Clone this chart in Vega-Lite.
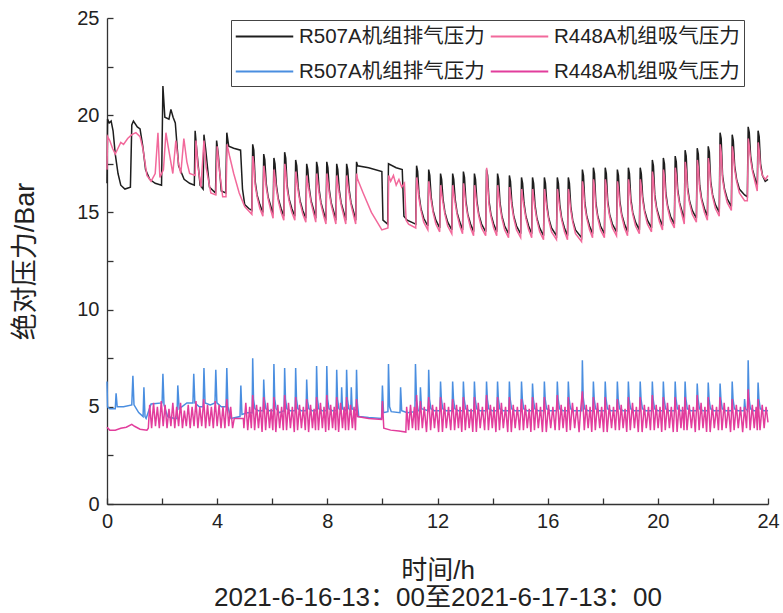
{
"$schema": "https://vega.github.io/schema/vega-lite/v6.json",
"width": 661, "height": 486,
"autosize": {"type": "none"},
"padding": {"left": 107, "top": 18, "right": 15, "bottom": 109},
"background": "white",
"config": {"view": {"stroke": null}, "font": "Liberation Sans, Noto Sans CJK SC"},
"datasets": {
"k": [
{"x":0,"y":16.5},{"x":0.02,"y":19.8},{"x":0.08,"y":19.6},{"x":0.15,"y":19.7},{"x":0.22,"y":19.2},{"x":0.3,"y":18.0},{"x":0.4,"y":17.0},{"x":0.5,"y":16.4},{"x":0.65,"y":16.2},{"x":0.85,"y":16.3},{"x":0.9,"y":19.5},{"x":0.96,"y":19.7},{"x":1.1,"y":19.4},{"x":1.2,"y":19.3},{"x":1.3,"y":18.4},{"x":1.4,"y":17.2},{"x":1.55,"y":16.7},{"x":1.75,"y":16.5},{"x":1.98,"y":16.4},{"x":2.03,"y":21.5},{"x":2.1,"y":19.9},{"x":2.25,"y":19.8},{"x":2.32,"y":20.3},{"x":2.4,"y":19.9},{"x":2.48,"y":19.6},{"x":2.6,"y":17.4},{"x":2.8,"y":16.7},{"x":3.0,"y":16.5},{"x":3.17,"y":16.4},{"x":3.2,"y":19.2},{"x":3.26,"y":18.2},{"x":3.38,"y":16.4},{"x":3.49,"y":16.2},{"x":3.52,"y":19.0},{"x":3.58,"y":18.3},{"x":3.72,"y":16.3},{"x":3.94,"y":16.0},{"x":3.98,"y":18.7},{"x":4.04,"y":18.0},{"x":4.15,"y":16.1},{"x":4.31,"y":16.0},{"x":4.35,"y":19.1},{"x":4.42,"y":18.4},{"x":4.6,"y":18.3},{"x":4.85,"y":18.2},{"x":4.92,"y":16.2},{"x":5.0,"y":15.4},{"x":5.15,"y":15.2},
{"x":5.26,"y":15.1},{"x":5.29,"y":18.5},{"x":5.33,"y":18.2},{"x":5.38,"y":16.6},{"x":5.45,"y":15.9},{"x":5.55,"y":15.4},
{"x":5.66,"y":15.0},{"x":5.69,"y":18.0},{"x":5.73,"y":17.7},{"x":5.78,"y":16.5},{"x":5.85,"y":15.8},{"x":5.95,"y":15.3},
{"x":6.03,"y":14.9},{"x":6.06,"y":17.8},{"x":6.10,"y":17.5},{"x":6.15,"y":16.4},{"x":6.22,"y":15.7},{"x":6.32,"y":15.2},
{"x":6.42,"y":14.8},{"x":6.45,"y":18.1},{"x":6.49,"y":17.8},{"x":6.54,"y":16.4},{"x":6.61,"y":15.7},{"x":6.71,"y":15.2},
{"x":6.82,"y":14.8},{"x":6.85,"y":17.7},{"x":6.89,"y":17.4},{"x":6.94,"y":16.3},{"x":7.01,"y":15.6},{"x":7.11,"y":15.1},
{"x":7.22,"y":14.7},{"x":7.25,"y":17.5},{"x":7.29,"y":17.2},{"x":7.34,"y":16.3},{"x":7.41,"y":15.6},{"x":7.51,"y":15.1},
{"x":7.58,"y":14.7},{"x":7.61,"y":17.6},{"x":7.65,"y":17.3},{"x":7.70,"y":16.2},{"x":7.77,"y":15.5},{"x":7.87,"y":15.0},
{"x":7.95,"y":14.6},{"x":7.98,"y":17.6},{"x":8.02,"y":17.3},{"x":8.07,"y":16.2},{"x":8.14,"y":15.5},{"x":8.24,"y":15.0},
{"x":8.31,"y":14.6},{"x":8.34,"y":17.5},{"x":8.38,"y":17.2},{"x":8.43,"y":16.2},{"x":8.50,"y":15.5},{"x":8.60,"y":15.0},
{"x":8.67,"y":14.6},{"x":8.70,"y":17.5},{"x":8.74,"y":17.2},{"x":8.79,"y":16.2},{"x":8.86,"y":15.5},{"x":8.96,"y":15.0},
{"x":9.03,"y":14.6},{"x":9.06,"y":17.6},{"x":9.10,"y":17.4},{"x":9.5,"y":17.3},{"x":9.98,"y":17.1},{"x":10.02,"y":14.6},{"x":10.19,"y":14.4},{"x":10.22,"y":17.5},{"x":10.5,"y":17.3},{"x":10.72,"y":17.2},{"x":10.78,"y":14.8},{"x":10.9,"y":14.6},
{"x":11.21,"y":14.4},{"x":11.24,"y":17.4},{"x":11.28,"y":17.1},{"x":11.33,"y":15.9},{"x":11.40,"y":15.2},{"x":11.50,"y":14.7},
{"x":11.65,"y":14.3},{"x":11.68,"y":17.2},{"x":11.72,"y":16.9},{"x":11.77,"y":15.8},{"x":11.84,"y":15.1},{"x":11.94,"y":14.6},
{"x":12.08,"y":14.2},{"x":12.11,"y":17.0},{"x":12.15,"y":16.7},{"x":12.20,"y":15.7},{"x":12.27,"y":15.0},{"x":12.37,"y":14.5},
{"x":12.52,"y":14.1},{"x":12.55,"y":17.0},{"x":12.59,"y":16.7},{"x":12.64,"y":15.7},{"x":12.71,"y":15.0},{"x":12.81,"y":14.5},
{"x":12.91,"y":14.1},{"x":12.94,"y":17.1},{"x":12.98,"y":16.8},{"x":13.03,"y":15.6},{"x":13.10,"y":14.9},{"x":13.20,"y":14.4},
{"x":13.31,"y":14.0},{"x":13.34,"y":17.0},{"x":13.38,"y":16.7},{"x":13.43,"y":15.6},{"x":13.50,"y":14.9},{"x":13.60,"y":14.4},
{"x":13.75,"y":14.0},{"x":13.78,"y":17.2},{"x":13.82,"y":16.9},{"x":13.87,"y":15.6},{"x":13.94,"y":14.9},{"x":14.04,"y":14.4},
{"x":14.15,"y":14.0},{"x":14.18,"y":17.0},{"x":14.22,"y":16.7},{"x":14.27,"y":15.5},{"x":14.34,"y":14.8},{"x":14.44,"y":14.3},
{"x":14.58,"y":13.9},{"x":14.61,"y":16.9},{"x":14.65,"y":16.6},{"x":14.70,"y":15.5},{"x":14.77,"y":14.8},{"x":14.87,"y":14.3},
{"x":15.02,"y":13.9},{"x":15.05,"y":16.8},{"x":15.09,"y":16.5},{"x":15.14,"y":15.5},{"x":15.21,"y":14.8},{"x":15.31,"y":14.3},
{"x":15.42,"y":13.9},{"x":15.45,"y":16.8},{"x":15.49,"y":16.5},{"x":15.54,"y":15.4},{"x":15.61,"y":14.7},{"x":15.71,"y":14.2},
{"x":15.85,"y":13.8},{"x":15.88,"y":16.8},{"x":15.92,"y":16.5},{"x":15.97,"y":15.4},{"x":16.04,"y":14.7},{"x":16.14,"y":14.2},
{"x":16.32,"y":13.8},{"x":16.35,"y":16.8},{"x":16.39,"y":16.5},{"x":16.44,"y":15.4},{"x":16.51,"y":14.7},{"x":16.61,"y":14.2},
{"x":16.72,"y":13.8},{"x":16.75,"y":16.8},{"x":16.79,"y":16.5},{"x":16.84,"y":15.3},{"x":16.91,"y":14.6},{"x":17.01,"y":14.1},
{"x":17.23,"y":13.7},{"x":17.26,"y":17.2},{"x":17.30,"y":16.9},{"x":17.35,"y":15.5},{"x":17.42,"y":14.8},{"x":17.52,"y":14.3},
{"x":17.63,"y":13.9},{"x":17.66,"y":17.3},{"x":17.70,"y":17.0},{"x":17.75,"y":15.5},{"x":17.82,"y":14.8},{"x":17.92,"y":14.3},
{"x":18.06,"y":13.9},{"x":18.09,"y":17.3},{"x":18.13,"y":17.0},{"x":18.18,"y":15.6},{"x":18.25,"y":14.9},{"x":18.35,"y":14.4},
{"x":18.50,"y":14.0},{"x":18.53,"y":17.2},{"x":18.57,"y":16.9},{"x":18.62,"y":15.6},{"x":18.69,"y":14.9},{"x":18.79,"y":14.4},
{"x":18.90,"y":14.0},{"x":18.93,"y":17.3},{"x":18.97,"y":17.0},{"x":19.02,"y":15.7},{"x":19.09,"y":15.0},{"x":19.19,"y":14.5},
{"x":19.33,"y":14.1},{"x":19.36,"y":17.3},{"x":19.40,"y":17.0},{"x":19.45,"y":15.8},{"x":19.52,"y":15.1},{"x":19.62,"y":14.6},
{"x":19.77,"y":14.2},{"x":19.80,"y":17.7},{"x":19.84,"y":17.4},{"x":19.89,"y":15.9},{"x":19.96,"y":15.2},{"x":20.06,"y":14.7},
{"x":20.17,"y":14.3},{"x":20.20,"y":17.8},{"x":20.24,"y":17.5},{"x":20.29,"y":16.0},{"x":20.36,"y":15.3},{"x":20.46,"y":14.8},
{"x":20.60,"y":14.4},{"x":20.63,"y":17.9},{"x":20.67,"y":17.6},{"x":20.72,"y":16.2},{"x":20.79,"y":15.5},{"x":20.89,"y":15.0},
{"x":20.96,"y":14.6},{"x":20.99,"y":18.2},{"x":21.03,"y":17.9},{"x":21.08,"y":16.3},{"x":21.15,"y":15.6},{"x":21.25,"y":15.1},
{"x":21.40,"y":14.7},{"x":21.43,"y":18.3},{"x":21.47,"y":18.0},{"x":21.52,"y":16.4},{"x":21.59,"y":15.7},{"x":21.69,"y":15.2},
{"x":21.80,"y":14.8},{"x":21.83,"y":18.4},{"x":21.87,"y":18.1},{"x":21.92,"y":16.6},{"x":21.99,"y":15.9},{"x":22.09,"y":15.4},
{"x":22.23,"y":15.0},{"x":22.26,"y":19.1},{"x":22.30,"y":18.8},{"x":22.35,"y":16.9},{"x":22.42,"y":16.2},{"x":22.52,"y":15.7},
{"x":22.67,"y":15.3},{"x":22.70,"y":19.0},{"x":22.74,"y":18.7},{"x":22.79,"y":17.4},{"x":22.86,"y":16.7},{"x":22.96,"y":16.2},{"x":23.15,"y":15.9},
{"x":23.25,"y":15.8},{"x":23.28,"y":19.4},{"x":23.32,"y":19.1},{"x":23.37,"y":17.9},{"x":23.44,"y":17.2},{"x":23.54,"y":16.7},
{"x":23.61,"y":16.3},{"x":23.64,"y":19.2},{"x":23.68,"y":18.9},{"x":23.73,"y":17.5},{"x":23.80,"y":16.9},{"x":23.90,"y":16.6},{"x":24.0,"y":16.7}
],
"p": [
{"x":0,"y":17.2},{"x":0.02,"y":18.9},{"x":0.1,"y":18.7},{"x":0.2,"y":18.3},{"x":0.3,"y":18.0},{"x":0.4,"y":18.3},{"x":0.5,"y":18.6},{"x":0.6,"y":18.5},{"x":0.75,"y":18.8},{"x":0.9,"y":19.0},{"x":1.05,"y":19.1},{"x":1.2,"y":18.9},{"x":1.3,"y":18.3},{"x":1.45,"y":16.9},{"x":1.6,"y":16.6},{"x":1.75,"y":17.0},{"x":1.85,"y":19.1},{"x":1.92,"y":16.8},{"x":2.05,"y":17.2},{"x":2.14,"y":19.1},{"x":2.22,"y":18.4},{"x":2.39,"y":17.0},{"x":2.5,"y":18.7},{"x":2.6,"y":17.5},{"x":2.68,"y":17.0},{"x":2.79,"y":18.8},{"x":2.9,"y":17.6},{"x":3.0,"y":17.0},{"x":3.2,"y":16.9},{"x":3.23,"y":18.7},{"x":3.3,"y":17.4},{"x":3.41,"y":16.3},{"x":3.52,"y":18.7},{"x":3.6,"y":17.3},{"x":3.77,"y":16.0},{"x":3.95,"y":15.9},{"x":4.0,"y":18.4},{"x":4.08,"y":17.2},{"x":4.2,"y":15.8},{"x":4.32,"y":15.8},{"x":4.36,"y":18.5},{"x":4.45,"y":17.9},{"x":4.6,"y":17.0},{"x":4.8,"y":16.0},{"x":5.0,"y":15.3},
{"x":5.26,"y":14.9},{"x":5.295,"y":17.9},{"x":5.33,"y":17.5},{"x":5.38,"y":16.4},{"x":5.45,"y":15.8},{"x":5.55,"y":15.2},
{"x":5.66,"y":14.8},{"x":5.695,"y":17.4},{"x":5.73,"y":17.0},{"x":5.78,"y":16.3},{"x":5.85,"y":15.7},{"x":5.95,"y":15.1},
{"x":6.03,"y":14.7},{"x":6.065,"y":17.2},{"x":6.10,"y":16.8},{"x":6.15,"y":16.2},{"x":6.22,"y":15.6},{"x":6.32,"y":15.0},
{"x":6.42,"y":14.6},{"x":6.455,"y":17.5},{"x":6.49,"y":17.1},{"x":6.54,"y":16.2},{"x":6.61,"y":15.6},{"x":6.71,"y":15.0},
{"x":6.82,"y":14.6},{"x":6.855,"y":17.1},{"x":6.89,"y":16.7},{"x":6.94,"y":16.1},{"x":7.01,"y":15.5},{"x":7.11,"y":14.9},
{"x":7.22,"y":14.5},{"x":7.255,"y":16.9},{"x":7.29,"y":16.5},{"x":7.34,"y":16.1},{"x":7.41,"y":15.5},{"x":7.51,"y":14.9},
{"x":7.58,"y":14.5},{"x":7.615,"y":17.0},{"x":7.65,"y":16.6},{"x":7.70,"y":16.0},{"x":7.77,"y":15.4},{"x":7.87,"y":14.8},
{"x":7.95,"y":14.4},{"x":7.985,"y":17.0},{"x":8.02,"y":16.6},{"x":8.07,"y":16.0},{"x":8.14,"y":15.4},{"x":8.24,"y":14.8},
{"x":8.31,"y":14.4},{"x":8.345,"y":16.9},{"x":8.38,"y":16.5},{"x":8.43,"y":16.0},{"x":8.50,"y":15.4},{"x":8.60,"y":14.8},
{"x":8.67,"y":14.4},{"x":8.705,"y":16.9},{"x":8.74,"y":16.5},{"x":8.79,"y":16.0},{"x":8.86,"y":15.4},{"x":8.96,"y":14.8},
{"x":9.03,"y":14.4},{"x":9.065,"y":17.0},{"x":9.10,"y":16.7},{"x":9.3,"y":16.0},{"x":9.6,"y":15.0},{"x":9.98,"y":14.1},{"x":10.2,"y":14.2},{"x":10.23,"y":16.9},{"x":10.3,"y":16.6},{"x":10.4,"y":16.9},{"x":10.5,"y":16.4},{"x":10.6,"y":16.7},{"x":10.7,"y":16.3},{"x":10.8,"y":16.5},{"x":10.86,"y":14.6},{"x":10.95,"y":14.4},
{"x":11.21,"y":14.2},{"x":11.245,"y":16.8},{"x":11.28,"y":16.4},{"x":11.33,"y":15.7},{"x":11.40,"y":15.1},{"x":11.50,"y":14.5},
{"x":11.65,"y":14.1},{"x":11.685,"y":16.6},{"x":11.72,"y":16.2},{"x":11.77,"y":15.6},{"x":11.84,"y":15.0},{"x":11.94,"y":14.4},
{"x":12.08,"y":14.0},{"x":12.115,"y":16.4},{"x":12.15,"y":16.0},{"x":12.20,"y":15.5},{"x":12.27,"y":14.9},{"x":12.37,"y":14.3},
{"x":12.52,"y":13.9},{"x":12.555,"y":16.4},{"x":12.59,"y":16.0},{"x":12.64,"y":15.5},{"x":12.71,"y":14.9},{"x":12.81,"y":14.3},
{"x":12.91,"y":13.9},{"x":12.945,"y":16.5},{"x":12.98,"y":16.1},{"x":13.03,"y":15.4},{"x":13.10,"y":14.8},{"x":13.20,"y":14.2},
{"x":13.31,"y":13.8},{"x":13.345,"y":16.4},{"x":13.38,"y":16.0},{"x":13.43,"y":15.4},{"x":13.50,"y":14.8},{"x":13.60,"y":14.2},
{"x":13.75,"y":13.8},{"x":13.785,"y":17.3},{"x":13.82,"y":16.5},{"x":13.87,"y":15.4},{"x":13.94,"y":14.8},{"x":14.04,"y":14.2},
{"x":14.15,"y":13.8},{"x":14.185,"y":16.4},{"x":14.22,"y":16.0},{"x":14.27,"y":15.3},{"x":14.34,"y":14.7},{"x":14.44,"y":14.1},
{"x":14.58,"y":13.7},{"x":14.615,"y":16.3},{"x":14.65,"y":15.9},{"x":14.70,"y":15.3},{"x":14.77,"y":14.7},{"x":14.87,"y":14.1},
{"x":15.02,"y":13.7},{"x":15.055,"y":16.2},{"x":15.09,"y":15.8},{"x":15.14,"y":15.3},{"x":15.21,"y":14.7},{"x":15.31,"y":14.1},
{"x":15.42,"y":13.7},{"x":15.455,"y":16.2},{"x":15.49,"y":15.8},{"x":15.54,"y":15.2},{"x":15.61,"y":14.6},{"x":15.71,"y":14.0},
{"x":15.85,"y":13.6},{"x":15.885,"y":16.2},{"x":15.92,"y":15.8},{"x":15.97,"y":15.2},{"x":16.04,"y":14.6},{"x":16.14,"y":14.0},
{"x":16.32,"y":13.6},{"x":16.355,"y":16.2},{"x":16.39,"y":15.8},{"x":16.44,"y":15.2},{"x":16.51,"y":14.6},{"x":16.61,"y":14.0},
{"x":16.72,"y":13.6},{"x":16.755,"y":16.2},{"x":16.79,"y":15.8},{"x":16.84,"y":15.1},{"x":16.91,"y":14.5},{"x":17.01,"y":13.9},
{"x":17.23,"y":13.5},{"x":17.265,"y":16.6},{"x":17.30,"y":16.2},{"x":17.35,"y":15.3},{"x":17.42,"y":14.7},{"x":17.52,"y":14.1},
{"x":17.63,"y":13.7},{"x":17.665,"y":16.7},{"x":17.70,"y":16.3},{"x":17.75,"y":15.3},{"x":17.82,"y":14.7},{"x":17.92,"y":14.1},
{"x":18.06,"y":13.7},{"x":18.095,"y":16.7},{"x":18.13,"y":16.3},{"x":18.18,"y":15.4},{"x":18.25,"y":14.8},{"x":18.35,"y":14.2},
{"x":18.50,"y":13.8},{"x":18.535,"y":16.6},{"x":18.57,"y":16.2},{"x":18.62,"y":15.4},{"x":18.69,"y":14.8},{"x":18.79,"y":14.2},
{"x":18.90,"y":13.8},{"x":18.935,"y":16.7},{"x":18.97,"y":16.3},{"x":19.02,"y":15.5},{"x":19.09,"y":14.9},{"x":19.19,"y":14.3},
{"x":19.33,"y":13.9},{"x":19.365,"y":16.7},{"x":19.40,"y":16.3},{"x":19.45,"y":15.6},{"x":19.52,"y":15.0},{"x":19.62,"y":14.4},
{"x":19.77,"y":14.0},{"x":19.805,"y":17.1},{"x":19.84,"y":16.7},{"x":19.89,"y":15.7},{"x":19.96,"y":15.1},{"x":20.06,"y":14.5},
{"x":20.17,"y":14.1},{"x":20.205,"y":17.2},{"x":20.24,"y":16.8},{"x":20.29,"y":15.8},{"x":20.36,"y":15.2},{"x":20.46,"y":14.6},
{"x":20.60,"y":14.2},{"x":20.635,"y":17.3},{"x":20.67,"y":16.9},{"x":20.72,"y":16.0},{"x":20.79,"y":15.4},{"x":20.89,"y":14.8},
{"x":20.96,"y":14.4},{"x":20.995,"y":17.6},{"x":21.03,"y":17.2},{"x":21.08,"y":16.1},{"x":21.15,"y":15.5},{"x":21.25,"y":14.9},
{"x":21.40,"y":14.5},{"x":21.435,"y":17.7},{"x":21.47,"y":17.3},{"x":21.52,"y":16.2},{"x":21.59,"y":15.6},{"x":21.69,"y":15.0},
{"x":21.80,"y":14.6},{"x":21.835,"y":17.8},{"x":21.87,"y":17.4},{"x":21.92,"y":16.4},{"x":21.99,"y":15.8},{"x":22.09,"y":15.2},
{"x":22.23,"y":14.8},{"x":22.265,"y":18.5},{"x":22.30,"y":18.1},{"x":22.35,"y":16.7},{"x":22.42,"y":16.1},{"x":22.52,"y":15.5},
{"x":22.67,"y":15.1},{"x":22.705,"y":18.4},{"x":22.74,"y":18.0},{"x":22.79,"y":17.2},{"x":22.86,"y":16.6},{"x":22.96,"y":16.0},{"x":23.15,"y":15.6},
{"x":23.25,"y":15.6},{"x":23.285,"y":18.8},{"x":23.32,"y":18.4},{"x":23.37,"y":17.7},{"x":23.44,"y":17.1},{"x":23.54,"y":16.5},
{"x":23.61,"y":16.1},{"x":23.645,"y":18.6},{"x":23.68,"y":18.2},{"x":23.73,"y":17.3},{"x":23.80,"y":16.9},{"x":23.90,"y":16.7},{"x":24.0,"y":16.9}
],
"b": [
{"x":0,"y":6.3},{"x":0.02,"y":5.0},{"x":0.1,"y":4.9},{"x":0.3,"y":4.9},{"x":0.33,"y":5.7},{"x":0.37,"y":5.0},{"x":0.6,"y":5.0},{"x":0.9,"y":5.1},{"x":0.94,"y":6.6},{"x":0.98,"y":5.1},{"x":1.15,"y":4.7},{"x":1.31,"y":4.5},{"x":1.34,"y":6.0},{"x":1.38,"y":4.5},{"x":1.42,"y":4.4},{"x":1.6,"y":5.15},{"x":2.0,"y":5.2},{"x":2.03,"y":6.7},{"x":2.07,"y":5.1},{"x":2.2,"y":4.5},{"x":2.45,"y":4.4},{"x":2.54,"y":4.4},{"x":2.57,"y":6.1},{"x":2.62,"y":4.9},{"x":2.9,"y":5.2},{"x":3.12,"y":5.2},{"x":3.15,"y":6.7},{"x":3.19,"y":5.2},{"x":3.35,"y":5.0},{"x":3.49,"y":5.0},{"x":3.52,"y":7.0},{"x":3.56,"y":5.2},{"x":3.75,"y":5.1},{"x":3.92,"y":5.2},{"x":3.95,"y":6.9},{"x":3.99,"y":5.2},{"x":4.15,"y":5.0},{"x":4.32,"y":5.0},{"x":4.35,"y":7.0},{"x":4.39,"y":5.0},{"x":4.5,"y":4.4},{"x":4.83,"y":4.5},{"x":4.86,"y":6.1},{"x":4.9,"y":4.6},{"x":5.1,"y":4.7},
{"x":5.27,"y":4.7},{"x":5.29,"y":7.5},{"x":5.32,"y":5.4},{"x":5.37,"y":4.9},{"x":5.49,"y":4.8},
{"x":5.67,"y":4.8},{"x":5.69,"y":6.4},{"x":5.72,"y":5.4},{"x":5.77,"y":4.9},{"x":5.89,"y":4.8},
{"x":6.04,"y":4.8},{"x":6.06,"y":7.2},{"x":6.09,"y":5.4},{"x":6.14,"y":4.9},{"x":6.26,"y":4.7},
{"x":6.43,"y":4.8},{"x":6.45,"y":7.0},{"x":6.48,"y":5.4},{"x":6.53,"y":4.9},{"x":6.65,"y":4.8},
{"x":6.83,"y":4.8},{"x":6.85,"y":7.0},{"x":6.88,"y":5.4},{"x":6.93,"y":4.9},{"x":7.05,"y":4.8},
{"x":7.23,"y":4.8},{"x":7.25,"y":6.4},{"x":7.28,"y":5.3},{"x":7.33,"y":4.9},{"x":7.45,"y":4.8},
{"x":7.59,"y":4.8},{"x":7.61,"y":7.1},{"x":7.64,"y":5.4},{"x":7.69,"y":4.9},{"x":7.81,"y":4.8},
{"x":7.96,"y":4.8},{"x":7.98,"y":7.1},{"x":8.01,"y":5.4},{"x":8.06,"y":4.9},{"x":8.18,"y":4.8},
{"x":8.32,"y":4.8},{"x":8.34,"y":6.9},{"x":8.37,"y":5.4},{"x":8.42,"y":4.9},{"x":8.50,"y":4.8},{"x":8.52,"y":6.0},{"x":8.55,"y":4.9},{"x":8.66,"y":4.8},
{"x":8.68,"y":4.8},{"x":8.70,"y":6.9},{"x":8.73,"y":5.4},{"x":8.78,"y":4.9},{"x":8.85,"y":4.8},{"x":8.87,"y":6.0},{"x":8.90,"y":4.9},{"x":9.03,"y":4.8},
{"x":9.04,"y":4.8},{"x":9.06,"y":6.9},{"x":9.09,"y":5.2},{"x":9.14,"y":4.5},{"x":9.5,"y":4.45},{"x":9.97,"y":4.4},
{"x":10.0,"y":6.1},{"x":10.04,"y":4.7},{"x":10.2,"y":4.75},{"x":10.22,"y":7.2},{"x":10.26,"y":5.0},{"x":10.32,"y":4.75},{"x":10.64,"y":4.7},{"x":10.66,"y":6.0},{"x":10.7,"y":4.8},{"x":10.9,"y":4.7},{"x":11.18,"y":4.75},
{"x":11.2,"y":7.2},{"x":11.24,"y":5.3},{"x":11.3,"y":4.8},{"x":11.36,"y":4.8},{"x":11.38,"y":6.0},{"x":11.42,"y":4.9},
{"x":11.66,"y":4.8},{"x":11.68,"y":6.9},{"x":11.71,"y":5.4},{"x":11.76,"y":4.9},{"x":11.88,"y":4.8},
{"x":12.09,"y":4.8},{"x":12.11,"y":6.3},{"x":12.14,"y":5.4},{"x":12.19,"y":4.9},{"x":12.31,"y":4.8},
{"x":12.53,"y":4.8},{"x":12.55,"y":6.3},{"x":12.58,"y":5.4},{"x":12.63,"y":4.9},{"x":12.75,"y":4.8},
{"x":12.92,"y":4.8},{"x":12.94,"y":6.3},{"x":12.97,"y":5.4},{"x":13.02,"y":4.9},{"x":13.14,"y":4.8},
{"x":13.32,"y":4.8},{"x":13.34,"y":6.3},{"x":13.37,"y":5.4},{"x":13.42,"y":4.9},{"x":13.54,"y":4.8},
{"x":13.76,"y":4.8},{"x":13.78,"y":6.3},{"x":13.81,"y":5.4},{"x":13.86,"y":4.9},{"x":13.98,"y":4.8},
{"x":14.16,"y":4.8},{"x":14.18,"y":6.3},{"x":14.21,"y":5.4},{"x":14.26,"y":4.9},{"x":14.38,"y":4.8},
{"x":14.59,"y":4.8},{"x":14.61,"y":6.3},{"x":14.64,"y":5.4},{"x":14.69,"y":4.9},{"x":14.81,"y":4.8},
{"x":15.03,"y":4.8},{"x":15.05,"y":6.3},{"x":15.08,"y":5.4},{"x":15.13,"y":4.9},{"x":15.25,"y":4.8},
{"x":15.43,"y":4.8},{"x":15.45,"y":6.2},{"x":15.48,"y":5.4},{"x":15.53,"y":4.9},{"x":15.65,"y":4.8},
{"x":15.86,"y":4.8},{"x":15.88,"y":6.3},{"x":15.91,"y":5.4},{"x":15.96,"y":4.9},{"x":16.08,"y":4.8},
{"x":16.33,"y":4.8},{"x":16.35,"y":6.3},{"x":16.38,"y":5.4},{"x":16.43,"y":4.9},{"x":16.55,"y":4.8},
{"x":16.73,"y":4.8},{"x":16.75,"y":6.3},{"x":16.78,"y":5.4},{"x":16.83,"y":4.9},{"x":16.95,"y":4.8},
{"x":17.24,"y":4.8},{"x":17.26,"y":7.4},{"x":17.29,"y":5.5},{"x":17.34,"y":4.9},{"x":17.46,"y":4.8},
{"x":17.64,"y":4.8},{"x":17.66,"y":6.3},{"x":17.69,"y":5.4},{"x":17.74,"y":4.9},{"x":17.86,"y":4.8},
{"x":18.07,"y":4.8},{"x":18.09,"y":6.3},{"x":18.12,"y":5.4},{"x":18.17,"y":4.9},{"x":18.29,"y":4.8},
{"x":18.51,"y":4.8},{"x":18.53,"y":6.3},{"x":18.56,"y":5.4},{"x":18.61,"y":4.9},{"x":18.73,"y":4.8},
{"x":18.91,"y":4.8},{"x":18.93,"y":6.3},{"x":18.96,"y":5.4},{"x":19.01,"y":4.9},{"x":19.13,"y":4.8},
{"x":19.34,"y":4.8},{"x":19.36,"y":6.3},{"x":19.39,"y":5.4},{"x":19.44,"y":4.9},{"x":19.56,"y":4.8},
{"x":19.78,"y":4.8},{"x":19.80,"y":6.3},{"x":19.83,"y":5.4},{"x":19.88,"y":4.9},{"x":20.00,"y":4.8},
{"x":20.18,"y":4.8},{"x":20.20,"y":6.3},{"x":20.23,"y":5.4},{"x":20.28,"y":4.9},{"x":20.40,"y":4.8},
{"x":20.61,"y":4.8},{"x":20.63,"y":6.3},{"x":20.66,"y":5.4},{"x":20.71,"y":4.9},{"x":20.83,"y":4.8},
{"x":20.97,"y":4.8},{"x":20.99,"y":6.3},{"x":21.02,"y":5.4},{"x":21.07,"y":4.9},{"x":21.19,"y":4.8},
{"x":21.41,"y":4.8},{"x":21.43,"y":6.2},{"x":21.46,"y":5.4},{"x":21.51,"y":4.9},{"x":21.63,"y":4.8},
{"x":21.81,"y":4.8},{"x":21.83,"y":6.25},{"x":21.86,"y":5.4},{"x":21.91,"y":4.9},{"x":22.03,"y":4.8},
{"x":22.24,"y":4.8},{"x":22.26,"y":6.2},{"x":22.29,"y":5.4},{"x":22.34,"y":4.9},{"x":22.46,"y":4.8},
{"x":22.68,"y":4.8},{"x":22.70,"y":6.3},{"x":22.73,"y":5.4},{"x":22.78,"y":4.9},{"x":22.90,"y":4.8},
{"x":23.13,"y":4.8},{"x":23.15,"y":5.4},{"x":23.18,"y":4.9},{"x":23.26,"y":4.8},{"x":23.28,"y":7.4},{"x":23.31,"y":5.5},{"x":23.36,"y":4.9},{"x":23.48,"y":4.8},
{"x":23.62,"y":4.8},{"x":23.64,"y":6.25},{"x":23.67,"y":5.4},{"x":23.72,"y":4.9},{"x":23.84,"y":4.8},{"x":24.0,"y":4.8}
],
"m": [
{"x":0,"y":3.95},{"x":0.1,"y":3.8},{"x":0.3,"y":3.8},{"x":0.5,"y":3.9},{"x":0.7,"y":3.95},{"x":0.9,"y":4.1},{"x":1.0,"y":4.0},{"x":1.2,"y":3.85},{"x":1.45,"y":3.8},
{"x":1.50,"y":3.9},{"x":1.55,"y":5.1},{"x":1.62,"y":3.9},{"x":1.69,"y":5.2},{"x":1.76,"y":4.0},{"x":1.83,"y":5.0},{"x":1.90,"y":3.9},{"x":1.97,"y":5.3},{"x":2.04,"y":4.0},{"x":2.11,"y":5.1},{"x":2.18,"y":3.9},{"x":2.25,"y":4.9},{"x":2.32,"y":4.0},{"x":2.39,"y":5.2},{"x":2.46,"y":3.9},{"x":2.53,"y":5.0},{"x":2.60,"y":4.0},{"x":2.67,"y":5.2},{"x":2.74,"y":3.9},{"x":2.81,"y":4.8},{"x":2.88,"y":4.0},{"x":2.95,"y":5.1},{"x":3.02,"y":3.9},{"x":3.09,"y":5.0},{"x":3.16,"y":4.0},{"x":3.23,"y":5.3},{"x":3.30,"y":3.9},{"x":3.37,"y":5.0},{"x":3.44,"y":4.0},{"x":3.51,"y":5.4},{"x":3.58,"y":3.9},{"x":3.65,"y":5.1},{"x":3.72,"y":4.0},{"x":3.79,"y":5.0},{"x":3.86,"y":3.9},{"x":3.93,"y":5.3},{"x":4.00,"y":4.0},{"x":4.07,"y":5.1},{"x":4.14,"y":3.9},{"x":4.21,"y":5.0},{"x":4.28,"y":3.9},{"x":4.35,"y":5.4},{"x":4.42,"y":4.0},{"x":4.49,"y":5.0},{"x":4.56,"y":3.9},{"x":4.62,"y":4.4},{"x":4.8,"y":4.4},{"x":4.95,"y":4.4},
{"x":4.97,"y":3.9},{"x":5.04,"y":5.2},{"x":5.11,"y":3.8},{"x":5.18,"y":5.0},{"x":5.24,"y":3.9},
{"x":5.29,"y":5.6},{"x":5.36,"y":3.8},{"x":5.43,"y":5.1},{"x":5.50,"y":3.9},{"x":5.57,"y":5.0},{"x":5.63,"y":3.7},
{"x":5.69,"y":5.5},{"x":5.76,"y":3.8},{"x":5.83,"y":5.2},{"x":5.90,"y":3.9},{"x":5.96,"y":4.9},{"x":6.02,"y":3.8},
{"x":6.06,"y":5.5},{"x":6.13,"y":3.7},{"x":6.20,"y":5.1},{"x":6.27,"y":3.9},{"x":6.34,"y":5.0},{"x":6.40,"y":3.8},
{"x":6.45,"y":5.6},{"x":6.52,"y":3.8},{"x":6.59,"y":5.2},{"x":6.66,"y":3.9},{"x":6.73,"y":5.0},{"x":6.80,"y":3.7},
{"x":6.85,"y":5.5},{"x":6.92,"y":3.8},{"x":6.99,"y":5.1},{"x":7.06,"y":3.9},{"x":7.13,"y":5.0},{"x":7.20,"y":3.8},
{"x":7.25,"y":5.4},{"x":7.32,"y":3.7},{"x":7.39,"y":5.1},{"x":7.46,"y":3.9},{"x":7.52,"y":4.9},{"x":7.57,"y":3.8},
{"x":7.61,"y":5.5},{"x":7.68,"y":3.8},{"x":7.75,"y":5.2},{"x":7.82,"y":3.9},{"x":7.88,"y":5.0},{"x":7.94,"y":3.7},
{"x":7.98,"y":5.6},{"x":8.05,"y":3.8},{"x":8.12,"y":5.1},{"x":8.19,"y":3.9},{"x":8.25,"y":5.0},{"x":8.30,"y":3.8},
{"x":8.34,"y":5.5},{"x":8.41,"y":3.7},{"x":8.48,"y":5.2},{"x":8.55,"y":3.9},{"x":8.61,"y":5.0},{"x":8.66,"y":3.8},
{"x":8.70,"y":5.5},{"x":8.77,"y":3.8},{"x":8.84,"y":5.1},{"x":8.91,"y":3.9},{"x":8.97,"y":5.0},{"x":9.02,"y":3.8},
{"x":9.06,"y":5.4},{"x":9.10,"y":4.5},{"x":9.5,"y":4.4},{"x":9.97,"y":4.35},{"x":10.0,"y":5.3},{"x":10.05,"y":3.9},{"x":10.3,"y":3.8},{"x":10.6,"y":3.75},{"x":10.85,"y":3.7},
{"x":10.88,"y":5.0},{"x":10.95,"y":3.8},{"x":11.02,"y":5.1},{"x":11.09,"y":3.9},{"x":11.16,"y":5.0},{"x":11.21,"y":3.8},
{"x":11.24,"y":5.6},{"x":11.31,"y":3.8},{"x":11.38,"y":5.3},{"x":11.45,"y":3.9},{"x":11.52,"y":5.0},{"x":11.60,"y":3.7},
{"x":11.68,"y":5.5},{"x":11.75,"y":3.8},{"x":11.82,"y":5.1},{"x":11.89,"y":3.9},{"x":11.96,"y":5.0},{"x":12.04,"y":3.7},
{"x":12.11,"y":5.5},{"x":12.18,"y":3.7},{"x":12.25,"y":5.2},{"x":12.32,"y":3.9},{"x":12.40,"y":5.0},{"x":12.48,"y":3.8},
{"x":12.55,"y":5.4},{"x":12.62,"y":3.8},{"x":12.69,"y":5.1},{"x":12.76,"y":3.9},{"x":12.82,"y":5.0},{"x":12.88,"y":3.7},
{"x":12.94,"y":5.5},{"x":13.01,"y":3.8},{"x":13.08,"y":5.1},{"x":13.15,"y":3.9},{"x":13.22,"y":4.9},{"x":13.28,"y":3.7},
{"x":13.34,"y":5.5},{"x":13.41,"y":3.7},{"x":13.48,"y":5.2},{"x":13.55,"y":3.9},{"x":13.63,"y":5.0},{"x":13.71,"y":3.8},
{"x":13.78,"y":5.6},{"x":13.85,"y":3.8},{"x":13.92,"y":5.1},{"x":13.99,"y":3.9},{"x":14.05,"y":5.0},{"x":14.12,"y":3.7},
{"x":14.18,"y":5.5},{"x":14.25,"y":3.8},{"x":14.32,"y":5.2},{"x":14.39,"y":3.9},{"x":14.47,"y":5.0},{"x":14.55,"y":3.7},
{"x":14.61,"y":5.5},{"x":14.68,"y":3.7},{"x":14.75,"y":5.1},{"x":14.82,"y":3.9},{"x":14.90,"y":5.0},{"x":14.98,"y":3.8},
{"x":15.05,"y":5.4},{"x":15.12,"y":3.8},{"x":15.19,"y":5.1},{"x":15.26,"y":3.9},{"x":15.33,"y":4.9},{"x":15.39,"y":3.7},
{"x":15.45,"y":5.5},{"x":15.52,"y":3.8},{"x":15.59,"y":5.2},{"x":15.66,"y":3.9},{"x":15.74,"y":5.0},{"x":15.81,"y":3.7},
{"x":15.88,"y":5.5},{"x":15.95,"y":3.7},{"x":16.03,"y":5.1},{"x":16.11,"y":3.9},{"x":16.19,"y":5.0},{"x":16.27,"y":3.8},
{"x":16.35,"y":5.6},{"x":16.42,"y":3.8},{"x":16.49,"y":5.1},{"x":16.56,"y":3.9},{"x":16.63,"y":5.0},{"x":16.69,"y":3.7},
{"x":16.75,"y":5.5},{"x":16.82,"y":3.8},{"x":16.90,"y":5.2},{"x":16.98,"y":3.9},{"x":17.06,"y":5.0},{"x":17.14,"y":3.7},{"x":17.20,"y":4.9},
{"x":17.26,"y":5.8},{"x":17.33,"y":3.8},{"x":17.40,"y":5.1},{"x":17.47,"y":3.9},{"x":17.54,"y":5.0},{"x":17.60,"y":3.7},
{"x":17.66,"y":5.5},{"x":17.73,"y":3.8},{"x":17.81,"y":5.2},{"x":17.89,"y":3.9},{"x":17.96,"y":5.0},{"x":18.03,"y":3.7},
{"x":18.09,"y":5.5},{"x":18.16,"y":3.7},{"x":18.24,"y":5.1},{"x":18.32,"y":3.9},{"x":18.39,"y":5.0},{"x":18.46,"y":3.8},
{"x":18.53,"y":5.4},{"x":18.60,"y":3.8},{"x":18.67,"y":5.1},{"x":18.74,"y":3.9},{"x":18.81,"y":4.9},{"x":18.87,"y":3.7},
{"x":18.93,"y":5.5},{"x":19.00,"y":3.8},{"x":19.08,"y":5.2},{"x":19.15,"y":3.9},{"x":19.22,"y":5.0},{"x":19.29,"y":3.7},
{"x":19.36,"y":5.5},{"x":19.43,"y":3.7},{"x":19.51,"y":5.1},{"x":19.58,"y":3.9},{"x":19.66,"y":5.0},{"x":19.73,"y":3.8},
{"x":19.80,"y":5.6},{"x":19.87,"y":3.8},{"x":19.94,"y":5.1},{"x":20.01,"y":3.9},{"x":20.08,"y":5.0},{"x":20.14,"y":3.7},
{"x":20.20,"y":5.5},{"x":20.27,"y":3.8},{"x":20.35,"y":5.2},{"x":20.42,"y":3.9},{"x":20.49,"y":5.0},{"x":20.56,"y":3.7},
{"x":20.63,"y":5.5},{"x":20.70,"y":3.7},{"x":20.77,"y":5.1},{"x":20.84,"y":3.9},{"x":20.90,"y":5.0},{"x":20.95,"y":3.8},
{"x":20.99,"y":5.5},{"x":21.06,"y":3.8},{"x":21.14,"y":5.1},{"x":21.22,"y":3.9},{"x":21.29,"y":5.0},{"x":21.36,"y":3.7},
{"x":21.43,"y":5.6},{"x":21.50,"y":3.8},{"x":21.57,"y":5.2},{"x":21.64,"y":3.9},{"x":21.71,"y":5.0},{"x":21.77,"y":3.7},
{"x":21.83,"y":5.5},{"x":21.90,"y":3.7},{"x":21.98,"y":5.1},{"x":22.05,"y":3.9},{"x":22.13,"y":5.0},{"x":22.20,"y":3.8},
{"x":22.26,"y":5.5},{"x":22.33,"y":3.8},{"x":22.41,"y":5.2},{"x":22.48,"y":3.9},{"x":22.56,"y":5.0},{"x":22.64,"y":3.7},
{"x":22.70,"y":5.4},{"x":22.77,"y":3.8},{"x":22.85,"y":5.1},{"x":22.92,"y":3.9},{"x":23.00,"y":5.0},{"x":23.08,"y":3.7},{"x":23.15,"y":5.0},{"x":23.22,"y":3.9},
{"x":23.28,"y":5.9},{"x":23.35,"y":3.8},{"x":23.43,"y":5.1},{"x":23.50,"y":3.9},{"x":23.57,"y":5.0},{"x":23.61,"y":3.8},
{"x":23.64,"y":5.4},{"x":23.71,"y":3.8},{"x":23.79,"y":5.1},{"x":23.86,"y":3.9},{"x":23.93,"y":5.0},{"x":24.0,"y":4.2}
]
},
"encoding": {
  "x": {"field": "x", "type": "quantitative",
    "scale": {"domain": [0, 24], "nice": false, "zero": false},
    "axis": {"values": [0,2,4,6,8,10,12,14,16,18,20,22,24],
      "labelExpr": "datum.value % 4 === 0 ? datum.label : ''",
      "tickSize": -6, "tickWidth": 1.3, "tickColor": "#333", "domainColor": "#333", "domainWidth": 1.3,
      "labelFontSize": 20, "labelColor": "#222", "labelPadding": 13, "labelOverlap": false, "labelFlush": false,
      "grid": false,
      "title": ["时间/h", "2021-6-16-13：00至2021-6-17-13：00"],
      "titleFontSize": 26, "titleFontWeight": "normal", "titleColor": "#222", "titlePadding": 26, "titleLineHeight": 27}},
  "y": {"field": "y", "type": "quantitative",
    "scale": {"domain": [0, 25], "nice": false},
    "axis": {"values": [0,2.5,5,7.5,10,12.5,15,17.5,20,22.5,25],
      "labelExpr": "datum.value % 5 === 0 ? datum.label : ''",
      "tickSize": -6, "tickWidth": 1.3, "tickColor": "#333", "domainColor": "#333", "domainWidth": 1.3,
      "labelFontSize": 20, "labelColor": "#222", "labelPadding": 14, "labelOverlap": false, "labelFlush": false,
      "grid": false,
      "title": "绝对压力/Bar",
      "titleFontSize": 27, "titleFontWeight": "normal", "titleColor": "#222", "titlePadding": 37}}
},
"layer": [
  {"data": {"name": "k"}, "mark": {"type": "line", "strokeWidth": 1.5, "interpolate": "linear"},
   "encoding": {"color": {"datum": "k",
     "scale": {"domain": ["k", "b", "p", "m"], "range": ["#1e1e1e", "#4a8ee0", "#f2699b", "#e23d9c"]},
     "legend": {"orient": "none", "legendX": 124, "legendY": 2, "columns": 2, "title": null,
       "symbolType": "M-2.5,0H2.5", "symbolSize": 529, "symbolStrokeWidth": 2, "symbolOffset": 17,
       "labelFontSize": 20.5, "labelColor": "#222", "labelOffset": 22, "labelLimit": 400,
       "columnPadding": 1, "rowPadding": 12, "padding": 4,
       "strokeColor": "#444", "fillColor": "white",
       "labelExpr": "datum.label === 'k' || datum.label === 'b' ? 'R507A机组排气压力' : 'R448A机组吸气压力　  '"}}}},
  {"data": {"name": "p"}, "mark": {"type": "line", "strokeWidth": 1.5}, "encoding": {"color": {"datum": "p"}}},
  {"data": {"name": "b"}, "mark": {"type": "line", "strokeWidth": 1.5}, "encoding": {"color": {"datum": "b"}}},
  {"data": {"name": "m"}, "mark": {"type": "line", "strokeWidth": 1.5}, "encoding": {"color": {"datum": "m"}}},
  {"data": {"values": [{}]}, "mark": {"type": "rule", "color": "#333", "strokeWidth": 1.3},
   "encoding": {"x": {"datum": 24}, "y": {"datum": 0}, "y2": {"datum": 25}}}
]
}
